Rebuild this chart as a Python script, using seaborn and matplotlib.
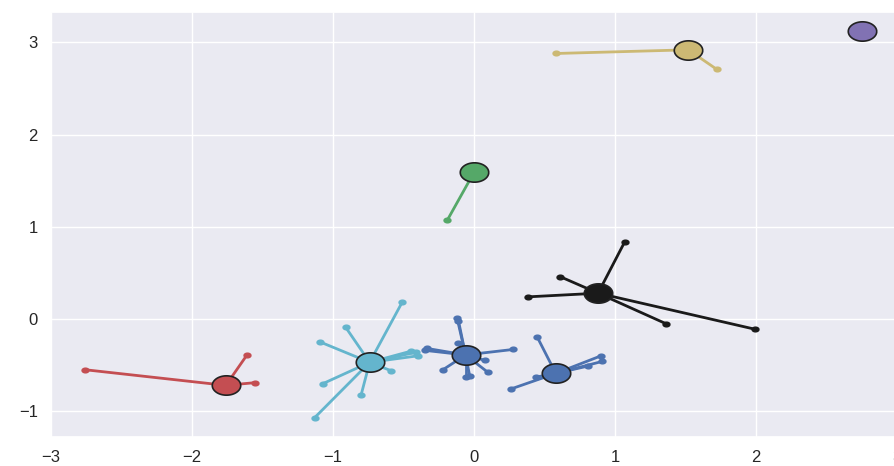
import matplotlib

matplotlib.use("Agg")
import matplotlib.pyplot as plt
import numpy as np
import pandas as pd
import seaborn as sns

# cluster centres
centre_x = [-1.76, 1.52, 2.75, 0.0, 0.88, -0.74, -0.06, 0.58]
centre_y = [-0.72, 2.92, 3.12, 1.59, 0.28, -0.47, -0.39, -0.59]
centre_color = ["r", "y", "m", "g", "k", "c", "b", "b"]

# member points and the centre each belongs to
member_x = [
    -2.76, -1.61, -1.55,
    0.58, 1.72,
    -0.19,
    1.07, 0.61, 0.38, 1.36, 1.99,
    -0.51, -0.91, -1.09, -1.07, -0.80, -1.13, -0.59, -0.41, -0.40, -0.45,
    -0.12, -0.11, -0.11, 0.28, -0.35, -0.33, -0.22, -0.06, -0.03, 0.10, 0.08,
    0.45, 0.90, 0.91, 0.26, 0.44, 0.81,
]
member_y = [
    -0.55, -0.39, -0.69,
    2.88, 2.71,
    1.07,
    0.84, 0.46, 0.24, -0.05, -0.11,
    0.18, -0.09, -0.25, -0.70, -0.82, -1.07, -0.56, -0.36, -0.40, -0.35,
    0.01, -0.02, -0.26, -0.33, -0.34, -0.32, -0.55, -0.63, -0.62, -0.58, -0.45,
    -0.20, -0.40, -0.46, -0.76, -0.63, -0.51,
]
member_centre = [0] * 3 + [1] * 2 + [3] * 1 + [4] * 5 + [5] * 10 + [6] * 11 + [7] * 6

sns.set_theme(style="darkgrid")
sns.set_color_codes("deep")
plt.rcParams["font.family"] = ["Liberation Sans", "DejaVu Sans"]

# the reference is stretched sideways, so circles become ellipses
t = np.linspace(0, 2 * np.pi, 60)
ellipse = np.column_stack([1.47 * np.cos(t), np.sin(t)])

fig = plt.figure(figsize=(8.94, 4.66), dpi=100)
ax = fig.add_axes([51 / 894, 29 / 466, 846 / 894, 425 / 466])

for mx, my, ci in zip(member_x, member_y, member_centre):
    ax.plot([centre_x[ci], mx], [centre_y[ci], my], color=centre_color[ci],
            lw=2.0, marker=ellipse, markersize=5, markevery=[1], zorder=2)

centres = pd.DataFrame({"x": centre_x, "y": centre_y, "c": centre_color})
for _, row in centres.iterrows():
    ax.scatter(row.x, row.y, s=420, marker=ellipse, color=row.c,
               edgecolor="#222222", linewidth=1.2, zorder=3)

ax.set_xlim(-3.0, 3.0)
ax.set_ylim(-1.28, 3.33)
ax.set_xticks([-3, -2, -1, 0, 1, 2, 3])
ax.set_yticks([-1, 0, 1, 2, 3])
ax.tick_params(labelsize=12, colors=".15")

plt.savefig("out.png", dpi=100)
plt.close(fig)
